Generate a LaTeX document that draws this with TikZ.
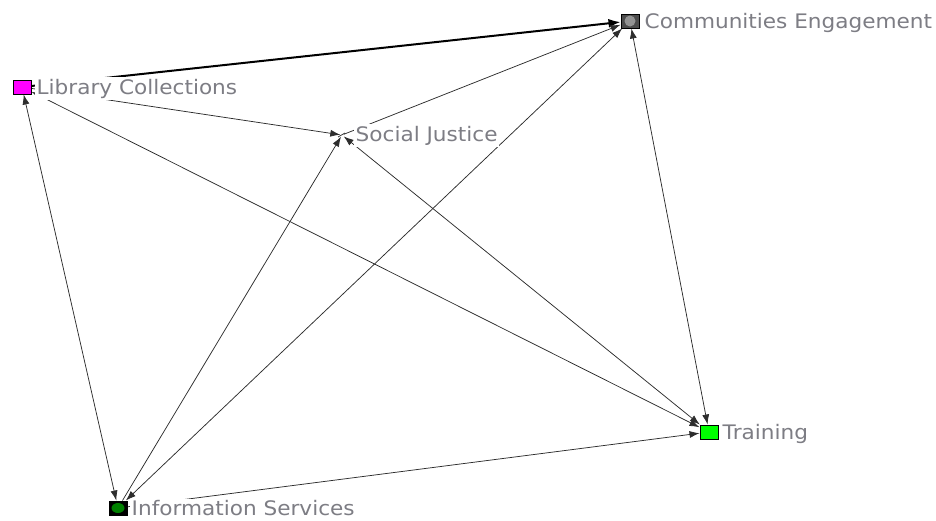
\documentclass[tikz,border=0pt]{standalone}
\usepackage{fontspec}
\setmainfont[FakeStretch=1.08]{DejaVu Sans}
\usetikzlibrary{arrows.meta}
\definecolor{labgray}{RGB}{125,125,132}
\definecolor{edgegray}{RGB}{45,45,45}
\definecolor{limegreen}{RGB}{0,255,0}
\definecolor{darkgreen}{RGB}{0,128,0}
\definecolor{puremagenta}{RGB}{255,0,255}
\tikzset{
  lab/.style={anchor=west, fill=white, inner sep=1.5pt, text=labgray, font=\fontsize{20}{22}\selectfont},
  sq/.style={draw=black, line width=1pt, minimum width=18pt, minimum height=14pt, inner sep=0pt},
  edge/.style={draw=edgegray, line width=0.75pt, -{Latex[length=10pt,width=7pt]}},
  bedge/.style={draw=edgegray, line width=0.75pt, {Latex[length=10pt,width=7pt]}-{Latex[length=10pt,width=7pt]}},
  thick edge/.style={draw=black, line width=2pt, -{Latex[length=12pt,width=9pt]}}
}
\begin{document}
\begin{tikzpicture}[x=1pt,y=-1pt]
\useasboundingbox (0,0) rectangle (936,520);
% nodes
\node[sq, fill=puremagenta] (lc) at (22,87) {};
\node[sq, fill=black!70] (ce) at (630,21) {};
\node[sq, fill=limegreen] (tr) at (709,432) {};
\node[sq, fill=black] (is) at (118,508) {};
\node[inner sep=0pt, minimum size=3pt] (sj) at (342,135) {};
% edges
\draw[thick edge] (lc) -- (ce);
\draw[edge] (lc) -- (sj);
\draw[bedge] (lc) -- (tr);
\draw[bedge] (lc) -- (is);
\draw[edge] (sj) -- (ce);
\draw[edge] (is) -- (sj);
\draw[bedge] (is) -- (ce);
\draw[edge] (is) -- (tr);
\draw[bedge] (sj) -- (tr);
\draw[bedge] (ce) -- (tr);
% labels
\node[lab] (lcl) at (35,88.5) {Library Collections};
\node[lab] (cel) at (643,22.5) {Communities Engagement};
\node[lab] (sjl) at (354,135.5) {Social Justice};
\node[lab] (trl) at (721,433.5) {Training};
\node[lab] (isl) at (130,508.5) {Information Services};
% node glyphs on top
\node[sq, fill=puremagenta] at (lc) {};
\node[sq, fill=black!70] at (ce) {};
\fill[gray!85] (ce) circle (5.5pt);
\node[sq, fill=limegreen] at (tr) {};
\node[sq, fill=black] at (is) {};
\fill[darkgreen] (is) ellipse (6.5pt and 5pt);
\draw[edgegray, line width=0.75pt] (338,137) -- (345,133);
\end{tikzpicture}
\end{document}
